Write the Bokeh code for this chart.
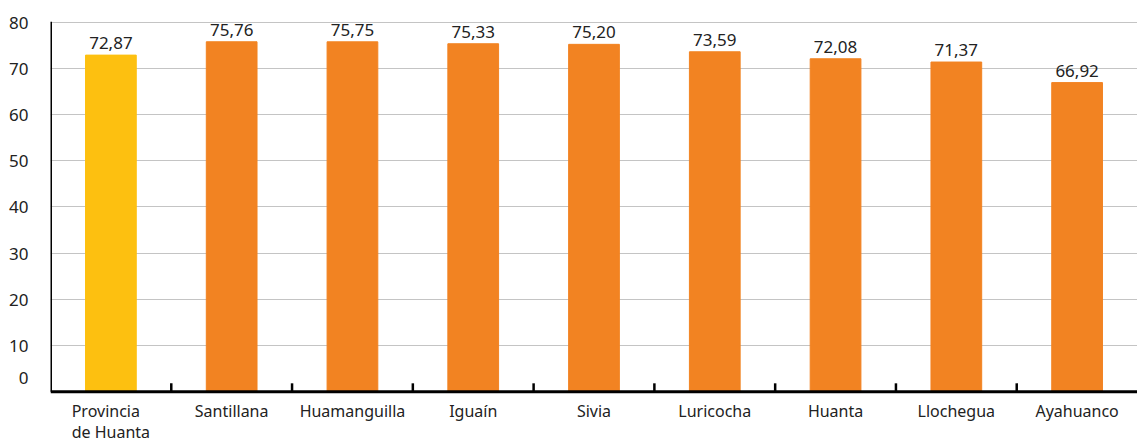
from bokeh.plotting import figure
from bokeh.models import ColumnDataSource, Range1d, FixedTicker, LabelSet, Span
from bokeh.core.properties import value
from bokeh.embed import file_html
from bokeh.resources import INLINE

categories = ["Provincia\nde Huanta", "Santillana", "Huamanguilla", "Iguaín", "Sivia",
              "Luricocha", "Huanta", "Llochegua", "Ayahuanco"]
values = [72.87, 75.76, 75.75, 75.33, 75.20, 73.59, 72.08, 71.37, 66.92]
colors = ["#FDC010"] + ["#F28322"] * 8
y_ticks = [0, 10, 20, 30, 40, 50, 60, 70, 80]
grid_ticks = [10, 20, 30, 40, 50, 60, 70, 80]

FONT = "Noto Sans"
n = len(categories)
xs = [i + 0.5 for i in range(n)]
labels = [f"{v:.2f}".replace(".", ",") for v in values]
Y_TOP = 80.15
Y_BOTTOM = -10.8   # room below the baseline for the category names

src = ColumnDataSource(dict(x=xs, top=values, color=colors, label=labels,
                            cat=categories, base=[0] * n))

p = figure(width=1137, height=441, output_backend="svg", toolbar_location=None,
           x_range=Range1d(0, n), y_range=Range1d(Y_BOTTOM, Y_TOP),
           min_border_left=50, min_border_right=0, min_border_top=21, min_border_bottom=0)
p.outline_line_color = None
p.background_fill_color = "white"

p.xgrid.visible = False
p.ygrid.ticker = FixedTicker(ticks=grid_ticks)
p.ygrid.grid_line_color = "#C4C4C4"
p.ygrid.grid_line_width = 1

p.vbar(x="x", top="top", width=0.42, color="color", source=src)

# value labels
lbl = LabelSet(x="x", y="top", text="label", source=src, text_align="center",
               text_baseline="alphabetic", y_offset=6, text_font=value(FONT),
               text_font_size="17px", text_color="#222222")
p.add_layout(lbl)

# category labels under the baseline
cat_lbl = LabelSet(x="x", y="base", text="cat", source=src, text_align="center",
                   text_baseline="top", y_offset=-8, text_font=value(FONT),
                   text_font_size="16px", text_color="#222222", text_line_height=0.95)
p.add_layout(cat_lbl)

# baseline and left axis line
p.add_layout(Span(location=0, dimension="width", line_color="black", line_width=3))
p.segment(x0=[0], y0=[0], x1=[0], y1=[Y_TOP], line_color="black", line_width=3)

# boundary tick marks along the baseline
bounds = list(range(1, n))
p.segment(x0=bounds, y0=[0] * len(bounds), x1=bounds, y1=[1.8] * len(bounds),
          line_color="black", line_width=2.5)

p.xaxis.visible = False

ya = p.yaxis[0]
ya.ticker = FixedTicker(ticks=y_ticks)
ya.major_label_overrides = {0: "0\n"}
ya.major_tick_line_color = None
ya.minor_tick_line_color = None
ya.axis_line_color = None
ya.major_label_text_font = FONT
ya.major_label_text_font_size = "17px"
ya.major_label_text_color = "#222222"
ya.major_label_standoff = 16

open("out.html", "w").write(file_html(p, INLINE))
